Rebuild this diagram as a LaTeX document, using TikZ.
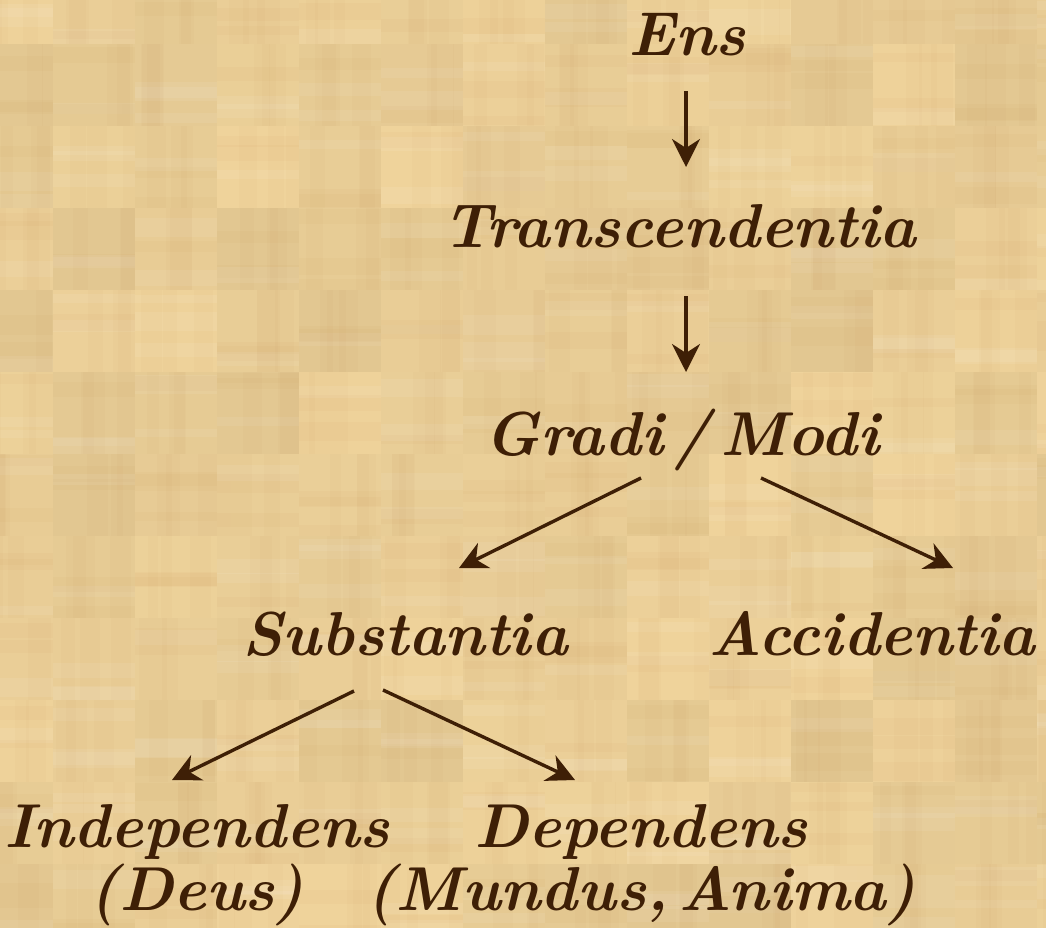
\documentclass[tikz,border=0pt]{standalone}
\usetikzlibrary{arrows.meta,calc}
\definecolor{ink}{RGB}{62,31,6}
\definecolor{paper}{RGB}{232,205,148}
\newcommand{\gap}{\hspace{0.17em}}
\begin{document}
\begin{tikzpicture}[x=1pt,y=-1pt,
  lbl/.style={text=ink, font=\fontsize{62}{63}\selectfont\bfseries\itshape, inner sep=0pt, align=center},
  arr/.style={draw=ink, line width=3.4pt, -{Stealth[length=28pt,width=28pt,inset=9pt]}}]
\useasboundingbox (0,0) rectangle (1046,927);
\fill[paper] (0,0) rectangle (1046,927);
\pgfmathsetseed{7}
\begin{scope}
\clip (0,0) rectangle (1046,927);
\foreach \i in {-1,...,12}{
  \foreach \j in {-1,...,11}{
    \pgfmathsetmacro\t{rnd}
    \pgfmathtruncatemacro\r{226+14*\t}
    \pgfmathtruncatemacro\g{199+13*\t}
    \pgfmathtruncatemacro\b{145+11*\t}
    \definecolor{cell}{RGB}{\r,\g,\b}
    \fill[cell] (53+82*\i,44+82*\j) rectangle ++(82,82);
    \foreach \k in {1,...,3}{
      \pgfmathsetmacro\yy{72*rnd}
      \pgfmathsetmacro\hh{8+12*rnd}
      \pgfmathsetmacro\cc{rnd>0.5?1:0}
      \ifdim\cc pt>0.5pt
        \fill[white,opacity=0.07] (53+82*\i,44+82*\j+\yy) rectangle ++(82,\hh);
      \else
        \fill[brown,opacity=0.04] (53+82*\i,44+82*\j+\yy) rectangle ++(82,\hh);
      \fi
      \pgfmathsetmacro\xx{72*rnd}
      \pgfmathsetmacro\ww{10+14*rnd}
      \fill[brown,opacity=0.03] (53+82*\i+\xx,44+82*\j) rectangle ++(\ww,82);
    }
  }
}
\end{scope}
\node[lbl, anchor=base] (ens) at (687,55) {Ens};
\node[lbl, anchor=base] (trans) at (679,247) {Transcendentia};
\node[lbl, anchor=base] (modi) at (682,455) {Gradi\gap/\gap Modi};
\node[lbl, anchor=base] (subst) at (405,655) {Substantia};
\node[lbl, anchor=base] (acc) at (872,655) {Accidentia};
\node[lbl, anchor=base] (indep) at (197,910) {Independens\\(Deus)};
\node[lbl, anchor=base] (dep) at (641,910) {Dependens\\(Mundus,\gap Anima)};
\draw[arr] ([shift={(-1,36)}]ens.base) -- ([shift={(7,-80)}]trans.base);
\draw[arr] ([shift={(7,49)}]trans.base) -- ([shift={(4,-83)}]modi.base);
\draw[arr] ([shift={(-41,23)}]modi.base) -- ([shift={(54,-87)}]subst.base);
\draw[arr] ([shift={(79,23)}]modi.base) -- ([shift={(81,-87)}]acc.base);
\draw[arr] ([shift={(-51,36)}]subst.base) -- ([shift={(-25,-130)}]indep.base);
\draw[arr] ([shift={(-22,35)}]subst.base) -- ([shift={(-66,-130)}]dep.base);
\end{tikzpicture}
\end{document}
